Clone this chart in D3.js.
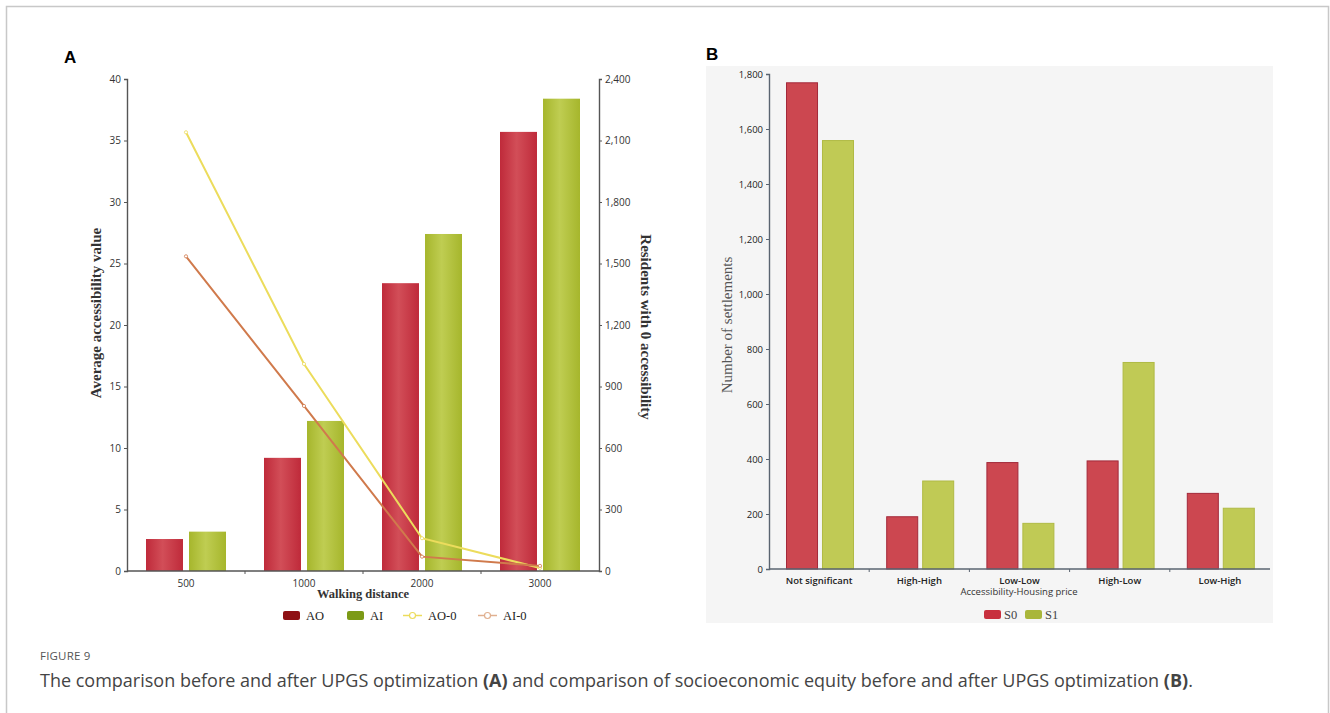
<!DOCTYPE html>
<html>
<head>
<meta charset="utf-8">
<script src="https://cdn.jsdelivr.net/npm/d3@7"></script>
<style>
  html, body { margin: 0; padding: 0; background: #fff; }
  svg { display: block; }
</style>
</head>
<body>
<div id="fig"></div>
<script>
// --- Data: panel A ---
const distances = ["500", "1000", "2000", "3000"];
const aoValues = [2.6, 9.2, 23.4, 35.7];
const aiValues = [3.2, 12.2, 27.4, 38.4];
const ao0Values = [2140, 1010, 160, 15];
const ai0Values = [1535, 805, 70, 25];
const leftTicks = [0, 5, 10, 15, 20, 25, 30, 35, 40];
const rightTicks = [0, 300, 600, 900, 1200, 1500, 1800, 2100, 2400];

// --- Data: panel B ---
const clusters = ["Not significant", "High-High", "Low-Low", "High-Low", "Low-High"];
const s0Values = [1768, 190, 387, 393, 275];
const s1Values = [1558, 320, 166, 751, 221];
const bTicks = [0, 200, 400, 600, 800, 1000, 1200, 1400, 1600, 1800];

const W = 1330, H = 713;
const svg = d3.select("#fig").append("svg")
    .attr("width", W)
    .attr("height", H);

const defs = svg.append("defs");
function barGradient(id, edge, mid) {
    const g = defs.append("linearGradient").attr("id", id)
        .attr("x1", "0%").attr("x2", "100%").attr("y1", "0%").attr("y2", "0%");
    g.append("stop").attr("offset", "0%").attr("stop-color", edge);
    g.append("stop").attr("offset", "45%").attr("stop-color", mid);
    g.append("stop").attr("offset", "100%").attr("stop-color", edge);
}
barGradient("gradRed", "#bf2a3a", "#d24e58");
barGradient("gradGreen", "#a6b62c", "#bfcd52");

// figure frame
svg.append("path")
    .attr("d", `M6.5,${H} V6.5 H1328.5 V${H}`)
    .attr("fill", "none")
    .attr("stroke", "#c8c8c8")
    .attr("stroke-width", 1.5);

const sans = "'Open Sans', 'Noto Sans', sans-serif";
const serif = "'Liberation Serif', 'DejaVu Serif', serif";

// ================= Panel A =================
const a = svg.append("g");

a.append("text")
    .attr("x", 64).attr("y", 63)
    .attr("font-family", "'Liberation Sans', Arial, sans-serif")
    .attr("font-weight", "bold")
    .attr("font-size", 17)
    .text("A");

const xA = d3.scaleBand().domain(distances).range([127, 599]);
const xA1 = d3.scaleBand().domain(["AO", "AI"]).range([19, 99]).paddingInner(0.14);
const yL = d3.scaleLinear().domain([0, 40]).range([571, 79]);
const yR = d3.scaleLinear().domain([0, 2400]).range([571, 79]);

// bars
const groups = a.append("g").selectAll("g")
    .data(distances)
    .join("g")
    .attr("transform", d => `translate(${xA(d)},0)`);

groups.append("rect")
    .attr("x", xA1("AO"))
    .attr("width", xA1.bandwidth())
    .attr("y", (d, i) => yL(aoValues[i]))
    .attr("height", (d, i) => yL(0) - yL(aoValues[i]))
    .attr("fill", "url(#gradRed)");

groups.append("rect")
    .attr("x", xA1("AI"))
    .attr("width", xA1.bandwidth())
    .attr("y", (d, i) => yL(aiValues[i]))
    .attr("height", (d, i) => yL(0) - yL(aiValues[i]))
    .attr("fill", "url(#gradGreen)");

// lines
const xc = d => xA(d) + xA.bandwidth() / 2;
const lineR = d3.line().x(d => xc(d[0])).y(d => yR(d[1]));

function drawSeries(vals, color) {
    const pts = distances.map((d, i) => [d, vals[i]]);
    a.append("path")
        .datum(pts)
        .attr("d", lineR)
        .attr("fill", "none")
        .attr("stroke", color)
        .attr("stroke-width", 2);
    a.append("g").selectAll("circle")
        .data(pts)
        .join("circle")
        .attr("cx", d => xc(d[0]))
        .attr("cy", d => yR(d[1]))
        .attr("r", 1.6)
        .attr("fill", "#fff")
        .attr("stroke", color)
        .attr("stroke-width", 0.8);
}
drawSeries(ao0Values, "#ecdc5c");
drawSeries(ai0Values, "#d07a4c");

// axes
const axisColor = "#555";
const leftAxis = a.append("g")
    .attr("transform", "translate(127,0)")
    .call(d3.axisLeft(yL).tickValues(leftTicks).tickSize(3).tickPadding(3));

const rightAxis = a.append("g")
    .attr("transform", "translate(599,0)")
    .call(d3.axisRight(yR).tickValues(rightTicks).tickSize(3).tickPadding(3)
        .tickFormat(d3.format(",")));

const bottomAxis = a.append("g")
    .attr("transform", "translate(0,571)")
    .call(d3.axisBottom(xA).tickSize(0).tickPadding(9));

[leftAxis, rightAxis, bottomAxis].forEach(ax => {
    ax.select(".domain").attr("stroke", axisColor).attr("stroke-width", 1.4);
    ax.selectAll(".tick line").attr("stroke", axisColor);
    ax.selectAll("text")
        .attr("font-family", sans)
        .attr("font-size", 10)
        .attr("fill", "#333");
});
bottomAxis.select(".domain").attr("d", "M127,0 H600");

// boundary ticks on category axis
a.append("g").selectAll("line")
    .data(distances.slice(1))
    .join("line")
    .attr("x1", d => xA(d)).attr("x2", d => xA(d))
    .attr("y1", 571).attr("y2", 574)
    .attr("stroke", axisColor);

// axis titles
a.append("text")
    .attr("transform", "translate(101,313) rotate(-90)")
    .attr("text-anchor", "middle")
    .attr("font-family", serif)
    .attr("font-weight", "bold")
    .attr("font-size", 15)
    .attr("fill", "#333")
    .text("Average accessibility value");

a.append("text")
    .attr("transform", "translate(641,327) rotate(90)")
    .attr("text-anchor", "middle")
    .attr("font-family", serif)
    .attr("font-weight", "bold")
    .attr("font-size", 15)
    .attr("fill", "#333")
    .text("Residents with 0 accessibility");

a.append("text")
    .attr("x", 363).attr("y", 598)
    .attr("text-anchor", "middle")
    .attr("font-family", serif)
    .attr("font-weight", "bold")
    .attr("font-size", 12.5)
    .attr("fill", "#333")
    .text("Walking distance");

// legend A
const legA = a.append("g").attr("font-family", serif).attr("font-size", 12.5).attr("fill", "#222");
const legItems = [
    { label: "AO", kind: "rect", color: "#8e1014", x: 283 },
    { label: "AI", kind: "rect", color: "#7c9a16", x: 347 },
    { label: "AO-0", kind: "line", color: "#ecdc5c", x: 403 },
    { label: "AI-0", kind: "line", color: "#e0b090", x: 478 }
];
legItems.forEach(it => {
    if (it.kind === "rect") {
        legA.append("rect")
            .attr("x", it.x).attr("y", 611)
            .attr("width", 17).attr("height", 9).attr("rx", 2)
            .attr("fill", it.color);
    } else {
        legA.append("line")
            .attr("x1", it.x).attr("x2", it.x + 19)
            .attr("y1", 615.5).attr("y2", 615.5)
            .attr("stroke", it.color).attr("stroke-width", 1.5);
        legA.append("circle")
            .attr("cx", it.x + 9.5).attr("cy", 615.5).attr("r", 3)
            .attr("fill", "#fff").attr("stroke", it.color).attr("stroke-width", 1.2);
    }
    legA.append("text")
        .attr("x", it.x + (it.kind === "rect" ? 23 : 25))
        .attr("y", 620)
        .text(it.label);
});

// ================= Panel B =================
const b = svg.append("g");

b.append("text")
    .attr("x", 706).attr("y", 60)
    .attr("font-family", "'Liberation Sans', Arial, sans-serif")
    .attr("font-weight", "bold")
    .attr("font-size", 17)
    .text("B");

b.append("rect")
    .attr("x", 706).attr("y", 66)
    .attr("width", 567).attr("height", 557)
    .attr("fill", "#f5f5f5");

const xB = d3.scaleBand().domain(clusters).range([769, 1270]);
const xB1 = d3.scaleBand().domain(["S0", "S1"]).range([17, 85]).paddingInner(0.11);
const yB = d3.scaleLinear().domain([0, 1800]).range([569, 74]);

const bGroups = b.append("g").selectAll("g")
    .data(clusters)
    .join("g")
    .attr("transform", d => `translate(${xB(d)},0)`);

bGroups.append("rect")
    .attr("x", xB1("S0") + 0.5)
    .attr("width", xB1.bandwidth() - 1)
    .attr("y", (d, i) => yB(s0Values[i]))
    .attr("height", (d, i) => yB(0) - yB(s0Values[i]))
    .attr("fill", "#cc4750")
    .attr("stroke", "#a3293a")
    .attr("stroke-width", 1);

bGroups.append("rect")
    .attr("x", xB1("S1") + 0.5)
    .attr("width", xB1.bandwidth() - 1)
    .attr("y", (d, i) => yB(s1Values[i]))
    .attr("height", (d, i) => yB(0) - yB(s1Values[i]))
    .attr("fill", "#c0ca55")
    .attr("stroke", "#b0ba44")
    .attr("stroke-width", 1);

const bLeft = b.append("g")
    .attr("transform", "translate(769,0)")
    .call(d3.axisLeft(yB).tickValues(bTicks).tickSize(3).tickPadding(3)
        .tickFormat(d3.format(",")));

const bBottom = b.append("g")
    .attr("transform", "translate(0,569)")
    .call(d3.axisBottom(xB).tickSize(0).tickPadding(8));

[bLeft, bBottom].forEach(ax => {
    ax.select(".domain").attr("stroke", "#5a6470").attr("stroke-width", 1.4);
    ax.selectAll(".tick line").attr("stroke", "#5a6470");
    ax.selectAll("text")
        .attr("font-family", sans)
        .attr("font-size", 9.5)
        .attr("fill", "#222");
});
bBottom.selectAll("text").attr("font-weight", 600);
bBottom.select(".domain").attr("d", "M769,0 H1270");

b.append("g").selectAll("line")
    .data(clusters.slice(1))
    .join("line")
    .attr("x1", d => xB(d)).attr("x2", d => xB(d))
    .attr("y1", 569).attr("y2", 572)
    .attr("stroke", "#5a6470");

b.append("text")
    .attr("transform", "translate(732,325) rotate(-90)")
    .attr("text-anchor", "middle")
    .attr("font-family", serif)
    .attr("font-size", 15)
    .attr("fill", "#555")
    .text("Number of settlements");

b.append("text")
    .attr("x", 1019).attr("y", 595)
    .attr("text-anchor", "middle")
    .attr("font-family", sans)
    .attr("font-size", 9.5)
    .attr("fill", "#333")
    .text("Accessibility-Housing price");

const legB = b.append("g").attr("font-family", serif).attr("font-size", 12.5).attr("fill", "#444");
[{ label: "S0", color: "#c8303e", x: 984 }, { label: "S1", color: "#a9b63a", x: 1025 }].forEach(it => {
    legB.append("rect")
        .attr("x", it.x).attr("y", 610)
        .attr("width", 17).attr("height", 9).attr("rx", 2)
        .attr("fill", it.color);
    legB.append("text")
        .attr("x", it.x + 20).attr("y", 619)
        .text(it.label);
});

// ================= Caption =================
svg.append("text")
    .attr("x", 40).attr("y", 660)
    .attr("font-family", sans)
    .attr("font-size", 11.5)
    .attr("fill", "#555")
    .attr("letter-spacing", 0.2)
    .text("FIGURE 9");

const cap = svg.append("text")
    .attr("x", 40).attr("y", 687)
    .attr("font-family", sans)
    .attr("font-size", 18)
    .attr("fill", "#444");
cap.append("tspan").text("The comparison before and after UPGS optimization ");
cap.append("tspan").attr("font-weight", "bold").text("(A)");
cap.append("tspan").text(" and comparison of socioeconomic equity before and after UPGS optimization ");
cap.append("tspan").attr("font-weight", "bold").text("(B)");
cap.append("tspan").text(".");
</script>
</body>
</html>
